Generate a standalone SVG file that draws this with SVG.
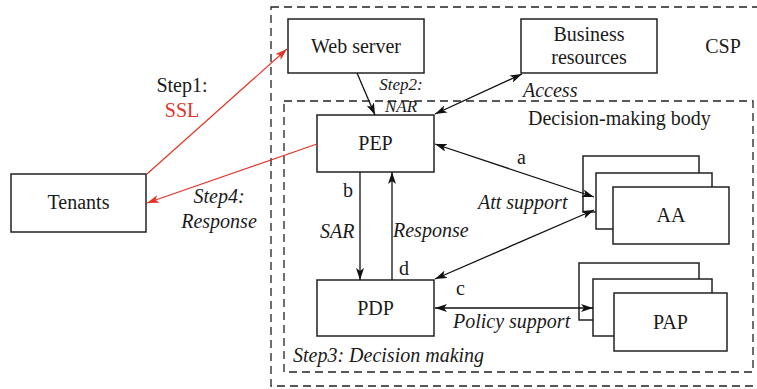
<svg xmlns="http://www.w3.org/2000/svg" width="757" height="389" viewBox="0 0 757 389" font-family="Liberation Serif, DejaVu Serif, Times New Roman, serif">
<defs>
<style>
.box{fill:#fff;stroke:#222;stroke-width:1.5}
.dash{fill:none;stroke:#222;stroke-width:1.3;stroke-dasharray:8 5}
text{font-size:20px;fill:#1a1a1a}
.i{font-style:italic}
.s{font-size:17px}
.c{text-anchor:middle}
.red{fill:#e0362a}
.ln{fill:none;stroke:#111;stroke-width:1.3}
.rl{fill:none;stroke:#e0362a;stroke-width:1.2}
</style>
<marker id="ah" viewBox="0 0 12 8" refX="12" refY="4" markerWidth="12" markerHeight="8" markerUnits="userSpaceOnUse" orient="auto-start-reverse">
<path d="M0,0 L12,4 L0,8 L3,4 z" fill="#111"/>
</marker>
<marker id="ahr" viewBox="0 0 12 8" refX="12" refY="4" markerWidth="12" markerHeight="8" markerUnits="userSpaceOnUse" orient="auto-start-reverse">
<path d="M0,0 L12,4 L0,8 L3,4 z" fill="#e0362a"/>
</marker>
</defs>

<g id="csp">
<rect class="dash" x="271" y="7" width="500" height="379"/>
<text class="c" x="723" y="53">CSP</text>
</g>
<g id="decision-body">
<rect class="dash" x="284" y="101" width="469" height="271"/>
<text x="528" y="125">Decision-making body</text>
<text class="i" x="293" y="362">Step3: Decision making</text>
</g>

<g id="tenants">
<rect class="box" x="11" y="174" width="135" height="58"/>
<text class="c" x="78.5" y="209">Tenants</text>
</g>
<g id="web-server">
<rect class="box" x="288" y="19" width="136" height="54"/>
<text class="c" x="356" y="53">Web server</text>
</g>
<g id="business-resources">
<rect class="box" x="521" y="19" width="136" height="54"/>
<text class="c" x="589" y="41">Business</text>
<text class="c" x="589" y="64">resources</text>
</g>
<g id="pep">
<rect class="box" x="317" y="115" width="117" height="57"/>
<text class="c" x="375.5" y="150">PEP</text>
</g>
<g id="pdp">
<rect class="box" x="317" y="280" width="117" height="56"/>
<text class="c" x="375.5" y="315">PDP</text>
</g>
<g id="aa">
<rect class="box" x="583" y="156" width="116" height="56"/>
<rect class="box" x="596" y="173" width="116" height="56"/>
<rect class="box" x="613" y="187" width="116" height="57"/>
<text class="c" x="671" y="222">AA</text>
</g>
<g id="pap">
<rect class="box" x="579" y="263" width="120" height="57"/>
<rect class="box" x="593" y="279" width="119" height="57"/>
<rect class="box" x="614" y="293" width="113" height="58"/>
<text class="c" x="670.5" y="329">PAP</text>
</g>

<g id="connectors">
<line class="rl" x1="147" y1="174" x2="287" y2="49" marker-end="url(#ahr)"/>
<line class="rl" x1="317" y1="144" x2="147" y2="203" marker-end="url(#ahr)"/>
<line class="ln" x1="357" y1="73" x2="375" y2="115" marker-end="url(#ah)"/>
<line class="ln" x1="435" y1="114" x2="522" y2="74" marker-start="url(#ah)" marker-end="url(#ah)"/>
<line class="ln" x1="435" y1="144" x2="594" y2="197" marker-start="url(#ah)" marker-end="url(#ah)"/>
<line class="ln" x1="435" y1="279" x2="594" y2="210" marker-start="url(#ah)" marker-end="url(#ah)"/>
<line class="ln" x1="435" y1="308" x2="593" y2="308" marker-start="url(#ah)" marker-end="url(#ah)"/>
<line class="ln" x1="360" y1="172" x2="360" y2="280" marker-end="url(#ah)"/>
<line class="ln" x1="392" y1="280" x2="392" y2="172" marker-end="url(#ah)"/>
</g>

<g id="labels">
<text class="c" x="182" y="92">Step1:</text>
<text class="c red" x="182" y="117">SSL</text>
<text class="i c" x="219" y="203">Step4:</text>
<text class="i c" x="219" y="228">Response</text>
<text class="i s c" x="401" y="90">Step2:</text>
<text class="i s c" x="401" y="112">NAR</text>
<text class="i" x="523" y="97">Access</text>
<text x="517" y="164">a</text>
<text x="343" y="197">b</text>
<text class="i" x="320" y="238">SAR</text>
<text class="i" x="393" y="237">Response</text>
<text x="399" y="275">d</text>
<text class="i" x="478" y="209">Att support</text>
<text x="456" y="295">c</text>
<text class="i" x="453" y="328">Policy support</text>
</g>
</svg>
